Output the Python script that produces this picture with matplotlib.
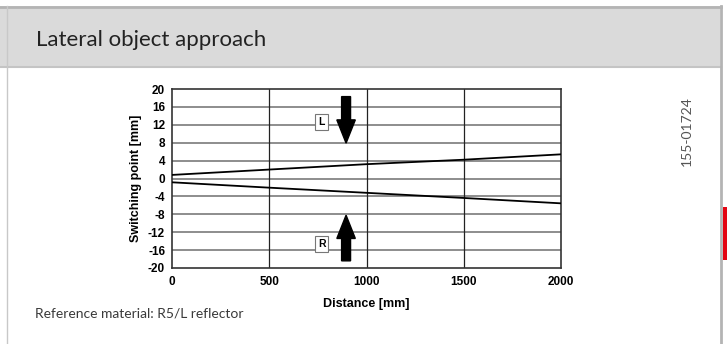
import numpy as np
import matplotlib.pyplot as plt
from matplotlib.patches import Rectangle, FancyArrow

plt.rcParams['axes.unicode_minus'] = False

distance = [0, 500, 1000, 1500, 2000]
left_curve = [0.8, 2.0, 3.2, 4.2, 5.4]
right_curve = [-0.85, -2.05, -3.2, -4.35, -5.55]
x_ticks = [0, 500, 1000, 1500, 2000]
y_ticks = list(range(-20, 21, 4))

W, H = 727, 344
fig = plt.figure(figsize=(W / 100, H / 100), dpi=100)

# page frame (pixel coordinates)
bg = fig.add_axes([0, 0, 1, 1])
bg.set_xlim(0, W)
bg.set_ylim(H, 0)
bg.axis('off')
bg.add_patch(Rectangle((0, 6), 720, 60, facecolor='#dadada', edgecolor='none'))
bg.plot([0, 721], [6.5, 6.5], color='#b4b4b4', lw=2)
bg.plot([0, 721], [66.5, 66.5], color='#c4c4c4', lw=1.5)
bg.plot([7, 7], [6, H], color='#c8c8c8', lw=1)
bg.plot([720.5, 720.5], [6, H], color='#b4b4b4', lw=2)
bg.add_patch(Rectangle((722.7, 207), 5, 53, facecolor='#e30613', edgecolor='none'))
bg.text(36, 40, 'Lateral object approach', fontsize=16, family='Lato',
        color='#222222', va='center', ha='left')
bg.text(35, 313, 'Reference material: R5/L reflector', fontsize=10, family='Lato',
        color='#3a3a3a', va='center', ha='left')
bg.text(687, 131, '155-01724', fontsize=10, family='Lato',
        color='#555555', rotation=90, va='center', ha='center')

# chart
ax = fig.add_axes([172 / W, 1 - 268 / H, (561 - 172) / W, (268 - 89) / H])
ax.set_xlim(0, 2000)
ax.set_ylim(-20, 20)
ax.set_xticks(x_ticks)
ax.set_yticks(y_ticks)
for y in y_ticks[1:-1]:
    ax.axhline(y, color='#7a7a7a', lw=1.2, zorder=1)
for x in x_ticks[1:-1]:
    ax.axvline(x, color='#222222', lw=0.9, zorder=1)
ax.plot(distance, left_curve, color='black', lw=1.3, zorder=3)
ax.plot(distance, right_curve, color='black', lw=1.3, zorder=3)

for s in ax.spines.values():
    s.set_color('#333333')
    s.set_linewidth(1.2)
ax.tick_params(axis='y', length=0, pad=5, labelsize=8.5)
ax.tick_params(axis='x', length=0, pad=6, labelsize=8.5)
for lab in ax.get_xticklabels() + ax.get_yticklabels():
    lab.set_fontweight('bold')
    lab.set_family('Liberation Sans')
ax.set_xlabel('Distance [mm]', fontsize=9, fontweight='bold', family='Liberation Sans', labelpad=7)
ax.set_ylabel('Switching point [mm]', fontsize=9, fontweight='bold', family='Liberation Sans', labelpad=4)

# arrows
ax.add_patch(FancyArrow(895, 18.3, 0, -10.4, width=46, head_width=95,
                        head_length=5.2, length_includes_head=True,
                        color='black', zorder=4))
ax.add_patch(FancyArrow(895, -18.4, 0, 10.2, width=46, head_width=95,
                        head_length=5.2, length_includes_head=True,
                        color='black', zorder=4))
box = dict(boxstyle='square,pad=0.3', facecolor='white', edgecolor='#777777', lw=0.8)
ax.text(769, 12.7, 'L', fontsize=7.5, fontweight='bold', family='Liberation Sans',
        ha='center', va='center', bbox=box, zorder=5)
ax.text(769, -14.7, 'R', fontsize=7.5, fontweight='bold', family='Liberation Sans',
        ha='center', va='center', bbox=box, zorder=5)

fig.savefig('out.png', dpi=100)
